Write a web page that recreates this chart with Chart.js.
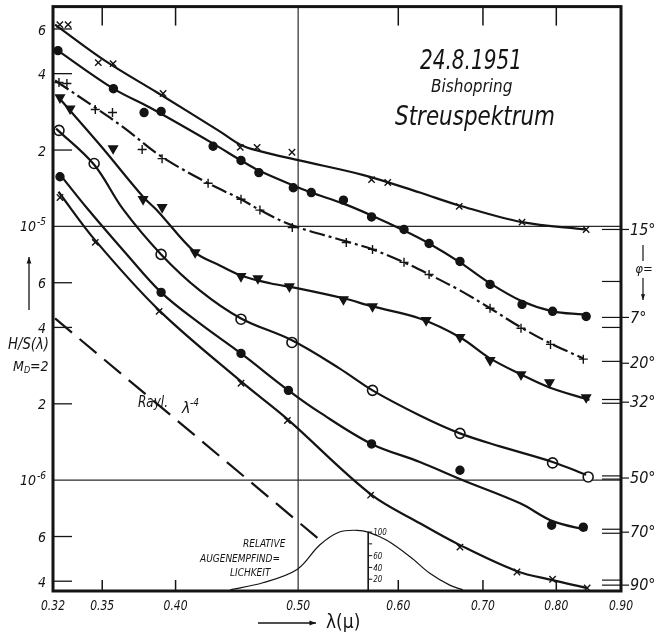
<!DOCTYPE html>
<html><head><meta charset="utf-8">
<script src="https://cdn.jsdelivr.net/npm/chart.js@4/dist/chart.umd.min.js"></script>
<style>html,body{margin:0;padding:0;background:#fff;}canvas{display:block;}</style>
</head><body>
<canvas id="c" width="659" height="633"></canvas>
<script>
// ---------- axis / label data ----------
const xTickVals   = [0.32,0.35,0.40,0.50,0.60,0.70,0.80,0.90];
const xTickLabels = ["0.32","0.35","0.40","0.50","0.60","0.70","0.80","0.90"];
const xMinorTicks = [0.35,0.40,0.60,0.70,0.80];
const gridX = [0.50];
const gridY = [1e-5,1e-6];
const yMinorVals   = [6e-5,4e-5,2e-5,6e-6,4e-6,2e-6,6e-7,4e-7];
const yMinorLabels = ["6","4","2","6","4","2","6","4"];
const yDecadeVals  = [1e-5,1e-6];
const yDecadeExps  = ["-5","-6"];
const angleLabels = ["15°","7°","20°","32°","50°","70°","90°"];
const angleVals   = [9.73e-6,4.38e-6,2.89e-6,2.03e-6,1.02e-6,6.24e-7,3.86e-7];
const rightMarkVals = [9.73e-6,6.07e-6,4.38e-6,4.0e-6,2.94e-6,2.08e-6,2.01e-6,1.04e-6,1.01e-6,6.41e-7,6.18e-7,4.04e-7,3.86e-7];
const eyeTickVals   = [20,40,60,80,100];
const eyeTickLabels = ["20","40","60","","100"];

// ---------- phi = 15° (crosses) ----------
const c15x=[0.3212,0.3517,0.3868,0.4335,0.450,0.4647,0.5011,0.5642,0.624,0.6704,0.7516,0.8447];
const c15y=[6.24e-5,4.50e-5,3.37e-5,2.37e-5,2.10e-5,1.99e-5,1.82e-5,1.59e-5,1.36e-5,1.21e-5,1.04e-5,9.73e-6];
const m15x=[0.324,0.3289,0.3475,0.357,0.391,0.450,0.464,0.4944,0.5715,0.5886,0.6704,0.7516,0.8447];
const m15y=[6.24e-5,6.24e-5,4.42e-5,4.38e-5,3.34e-5,2.05e-5,2.05e-5,1.96e-5,1.53e-5,1.49e-5,1.20e-5,1.04e-5,9.73e-6];
// ---------- phi = 7° (filled circles) ----------
const c7x=[0.3212,0.3572,0.3817,0.4283,0.4506,0.4655,0.4956,0.5121,0.5430,0.5715,0.6063,0.6346,0.6713,0.7091,0.7516,0.7946,0.8397];
const c7y=[5.02e-5,3.49e-5,2.94e-5,2.12e-5,1.82e-5,1.66e-5,1.45e-5,1.36e-5,1.23e-5,1.105e-5,9.64e-6,8.57e-6,7.22e-6,5.97e-6,5.07e-6,4.63e-6,4.50e-6];
const m7x=[0.3229,0.3572,0.3777,0.3896,0.4283,0.4506,0.4655,0.4956,0.5121,0.5430,0.5715,0.6063,0.6346,0.6713,0.7091,0.7516,0.7946,0.8447];
const m7y=[4.93e-5,3.49e-5,2.81e-5,2.84e-5,2.07e-5,1.82e-5,1.63e-5,1.42e-5,1.36e-5,1.27e-5,1.09e-5,9.73e-6,8.57e-6,7.28e-6,5.91e-6,4.93e-6,4.63e-6,4.42e-6];
// ---------- phi = 20° (plus) ----------
const c20x=[0.3212,0.3456,0.3649,0.3889,0.4244,0.4506,0.4664,0.4947,0.5458,0.5725,0.6063,0.6346,0.6713,0.7091,0.7502,0.7916,0.8403];
const c20y=[3.76e-5,2.94e-5,2.43e-5,1.90e-5,1.48e-5,1.28e-5,1.16e-5,1.01e-5,8.73e-6,8.12e-6,7.22e-6,6.47e-6,5.60e-6,4.76e-6,4.00e-6,3.46e-6,3.02e-6];
const m20x=[0.3235,0.3282,0.3456,0.3566,0.3764,0.3903,0.4244,0.4506,0.4664,0.4947,0.5458,0.5725,0.6063,0.6346,0.7091,0.7502,0.7916,0.8403];
const m20y=[3.69e-5,3.66e-5,2.89e-5,2.81e-5,2.01e-5,1.85e-5,1.48e-5,1.28e-5,1.16e-5,9.91e-6,8.65e-6,8.12e-6,7.22e-6,6.47e-6,4.76e-6,3.97e-6,3.43e-6,3.00e-6];
// ---------- phi = 32° (filled triangles) ----------
const c32x=[0.3223,0.349,0.377,0.3868,0.4145,0.4335,0.4506,0.4751,0.4999,0.5430,0.5725,0.624,0.6713,0.7091,0.7502,0.7901,0.8498];
const c32y=[3.28e-5,2.08e-5,1.31e-5,1.156e-5,7.90e-6,7.02e-6,6.41e-6,5.97e-6,5.70e-6,5.21e-6,4.84e-6,4.34e-6,3.66e-6,3.02e-6,2.61e-6,2.32e-6,2.07e-6];
const m32x=[0.3241,0.3301,0.357,0.377,0.3903,0.4145,0.4506,0.4647,0.4921,0.5430,0.5725,0.6312,0.6713,0.7091,0.7502,0.7901,0.8447];
const m32y=[3.22e-5,2.91e-5,2.03e-5,1.28e-5,1.19e-5,7.90e-6,6.36e-6,6.24e-6,5.80e-6,5.16e-6,4.84e-6,4.27e-6,3.66e-6,2.97e-6,2.61e-6,2.43e-6,2.12e-6];
// ---------- phi = 50° (open circles) ----------
const c50x=[0.3218,0.3449,0.3635,0.3896,0.418,0.4506,0.4944,0.539,0.5725,0.624,0.6713,0.722,0.7946,0.8447];
const c50y=[2.43e-5,1.75e-5,1.17e-5,7.76e-6,5.60e-6,4.34e-6,3.56e-6,2.76e-6,2.26e-6,1.80e-6,1.53e-6,1.36e-6,1.18e-6,1.05e-6];
const m50x=[0.3235,0.3449,0.3896,0.4506,0.4944,0.5725,0.6713,0.7946,0.8478];
const m50y=[2.39e-5,1.77e-5,7.76e-6,4.31e-6,3.49e-6,2.26e-6,1.53e-6,1.17e-6,1.03e-6];
// ---------- phi = 70° (filled circles) ----------
const c70x=[0.3232,0.3405,0.3649,0.3896,0.418,0.4506,0.4912,0.520,0.5715,0.624,0.6749,0.749,0.7946,0.8462];
const c70y=[1.63e-5,1.18e-5,7.90e-6,5.50e-6,4.15e-6,3.16e-6,2.26e-6,1.85e-6,1.39e-6,1.18e-6,1.0e-6,8.11e-7,6.90e-7,6.36e-7];
const m70x=[0.3241,0.3896,0.4506,0.4912,0.5715,0.6713,0.7932,0.8403];
const m70y=[1.57e-5,5.50e-6,3.16e-6,2.26e-6,1.39e-6,1.095e-6,6.65e-7,6.53e-7];
// ---------- phi = 90° (crosses) ----------
const c90x=[0.3232,0.3456,0.3882,0.4506,0.4903,0.5705,0.624,0.6713,0.7447,0.7946,0.8462];
const c90y=[1.37e-5,8.81e-6,4.67e-6,2.45e-6,1.74e-6,8.81e-7,6.77e-7,5.55e-7,4.38e-7,4.04e-7,3.76e-7];
const m90x=[0.3241,0.3456,0.3882,0.4506,0.4903,0.5705,0.6713,0.7447,0.7946,0.8462];
const m90y=[1.30e-5,8.65e-6,4.63e-6,2.41e-6,1.72e-6,8.73e-7,5.45e-7,4.35e-7,4.07e-7,3.76e-7];
// ---------- Rayleigh lambda^-4 (dashed) ----------
const rayX=[0.3212,0.5182];
const rayY=[4.34e-6,5.91e-7];
// ---------- relative eye sensitivity (inset, percent) ----------
const eyeX=[0.4418,0.4689,0.4994,0.520,0.539,0.5566,0.568,0.5876,0.6131,0.6354,0.6589,0.6749];
const eyeV=[2,14,37,78,100,103,100,86,58,30,10,2];

// ---------- helpers ----------
const INK='#141414';
function pts(xs,ys){return xs.map((x,i)=>({x:x,y:ys[i]}));}
function curve(xs,ys,extra){return Object.assign({type:'line',data:pts(xs,ys),borderColor:INK,borderWidth:2.2,pointRadius:0,fill:false,tension:0.35,xAxisID:'x',yAxisID:'y'},extra||{});}
function marks(xs,ys,style,extra){return Object.assign({type:'line',data:pts(xs,ys),showLine:false,pointStyle:style,pointRadius:4.5,borderColor:INK,backgroundColor:INK,pointBorderColor:INK,pointBackgroundColor:INK,pointBorderWidth:1.4,xAxisID:'x',yAxisID:'y'},extra||{});}
const FAM='"Liberation Sans Narrow","DejaVu Sans Condensed","Liberation Sans",sans-serif';
const F=(s,w)=>`italic ${w||'normal'} ${s}px ${FAM}`;

function arrow(ctx,x1,y1,x2,y2,h){
  ctx.beginPath();ctx.moveTo(x1,y1);ctx.lineTo(x2,y2);ctx.stroke();
  const a=Math.atan2(y2-y1,x2-x1);
  ctx.beginPath();ctx.moveTo(x2,y2);
  ctx.lineTo(x2-h*Math.cos(a-0.35),y2-h*Math.sin(a-0.35));
  ctx.lineTo(x2-h*Math.cos(a+0.35),y2-h*Math.sin(a+0.35));
  ctx.closePath();ctx.fill();
}

const deco={
  id:'deco',
  beforeDraw(chart){const c=chart.ctx;c.save();c.fillStyle='#fff';c.fillRect(0,0,chart.width,chart.height);c.restore();},
  beforeDatasetsDraw(chart){
    const {ctx,chartArea:a,scales:{x,y}}=chart;
    ctx.save();ctx.strokeStyle='#2a2a2a';ctx.lineWidth=1.2;
    gridY.forEach(v=>{const py=y.getPixelForValue(v);ctx.beginPath();ctx.moveTo(a.left,py);ctx.lineTo(a.right,py);ctx.stroke();});
    gridX.forEach(v=>{const px=x.getPixelForValue(v);ctx.beginPath();ctx.moveTo(px,a.top);ctx.lineTo(px,a.bottom);ctx.stroke();});
    ctx.restore();
  },
  afterDraw(chart){
    const {ctx,chartArea:a,scales:{x,y,yEye}}=chart;
    ctx.save();
    ctx.strokeStyle=INK;ctx.fillStyle=INK;
    // frame
    ctx.lineWidth=3;ctx.strokeRect(a.left,a.top,a.right-a.left,a.bottom-a.top);
    // x ticks top / bottom
    ctx.lineWidth=1.5;
    xMinorTicks.forEach(v=>{const px=x.getPixelForValue(v);
      ctx.beginPath();ctx.moveTo(px,a.top);ctx.lineTo(px,a.top+19);ctx.stroke();
      ctx.beginPath();ctx.moveTo(px,a.bottom);ctx.lineTo(px,a.bottom-11);ctx.stroke();});
    // x labels
    ctx.font=F(14);ctx.textAlign='center';ctx.textBaseline='middle';
    xTickVals.forEach((v,i)=>{ctx.fillText(xTickLabels[i],x.getPixelForValue(v),a.bottom+15,24);});
    // x title
    ctx.lineWidth=1.3;arrow(ctx,258,623,316,623,7);
    ctx.font=`19px ${FAM}`;ctx.textAlign='left';ctx.fillText('λ(μ)',326,623);
    // y ticks (left, inside)
    ctx.lineWidth=1.3;ctx.font=F(14);ctx.textAlign='right';
    yMinorVals.forEach((v,i)=>{const py=y.getPixelForValue(v);
      ctx.beginPath();ctx.moveTo(a.left,py);ctx.lineTo(a.left+19,py);ctx.stroke();
      ctx.fillText(yMinorLabels[i],a.left-7,py+2);});
    yDecadeVals.forEach((v,i)=>{const py=y.getPixelForValue(v);
      ctx.font=F(14);ctx.textAlign='right';ctx.fillText('10',a.left-17,py+1);
      ctx.font=F(10);ctx.textAlign='left';ctx.fillText(yDecadeExps[i],a.left-16,py-4);});
    // y title
    ctx.lineWidth=1.3;arrow(ctx,29,310,29,257,7);
    ctx.font=F(15);ctx.textAlign='left';ctx.fillText('H/S(λ)',8,345,41);
    ctx.font=F(14);ctx.fillText('M',13,367);
    ctx.font=F(9);ctx.fillText('D',24,371);
    ctx.font=F(14);ctx.fillText('=2',30,367);
    // right marks and labels
    ctx.lineWidth=1.2;
    rightMarkVals.forEach(v=>{const py=y.getPixelForValue(v);
      ctx.beginPath();ctx.moveTo(a.right-19,py);ctx.lineTo(a.right,py);ctx.stroke();});
    ctx.font=F(16);ctx.textAlign='left';
    angleVals.forEach((v,i)=>{const py=y.getPixelForValue(v);
      ctx.beginPath();ctx.moveTo(a.right,py);ctx.lineTo(a.right+8,py);ctx.stroke();
      ctx.fillText(angleLabels[i],a.right+9,py+1,26);});
    // phi indicator
    ctx.beginPath();ctx.moveTo(643,245);ctx.lineTo(643,261);ctx.stroke();
    ctx.font=F(13);ctx.textAlign='center';ctx.fillText('φ=',644,270);
    arrow(ctx,643,278,643,300,6);
    // title block
    ctx.textAlign='left';
    ctx.font=F(27);ctx.fillText('24.8.1951',420,62,102);
    ctx.font=F(17);ctx.fillText('Bishopring',431,88,90);
    ctx.font=F(27);ctx.fillText('Streuspektrum',395,118,160);
    // Rayleigh label
    ctx.font=F(16);ctx.fillText('Rayl.',138,403,30);
    ctx.fillText('λ',182,409);ctx.font=F(10);ctx.fillText('-4',190,403);
    // eye sensitivity inset axis
    const ex=x.getPixelForValue(0.568);
    ctx.lineWidth=1.6;ctx.beginPath();ctx.moveTo(ex,a.bottom);ctx.lineTo(ex,yEye.getPixelForValue(100));ctx.stroke();
    ctx.lineWidth=1;ctx.font=F(8);ctx.textAlign='left';
    eyeTickVals.forEach((v,i)=>{const py=yEye.getPixelForValue(v);
      ctx.beginPath();ctx.moveTo(ex,py);ctx.lineTo(ex+4,py);ctx.stroke();
      if(eyeTickLabels[i])ctx.fillText(eyeTickLabels[i],ex+5,py+1);});
    ctx.font=F(10);
    ctx.fillText('RELATIVE',243,544,54);
    ctx.fillText('AUGENEMPFIND=',200,559,95);
    ctx.fillText('LICHKEIT',230,573,46);
    ctx.restore();
  }
};

new Chart(document.getElementById('c'),{
  type:'line',
  data:{datasets:[
    curve(rayX,rayY,{borderDash:[22,10],borderWidth:2.2,tension:0}),
    curve(eyeX,eyeV,{borderWidth:1.2,yAxisID:'yEye'}),
    curve(c15x,c15y),
    curve(c7x,c7y),
    curve(c20x,c20y,{borderDash:[16,4,3,4]}),
    curve(c32x,c32y),
    curve(c50x,c50y),
    curve(c70x,c70y),
    curve(c90x,c90y),
    marks(m15x,m15y,'crossRot'),
    marks(m7x,m7y,'circle',{pointRadius:4}),
    marks(m20x,m20y,'cross'),
    marks(m32x,m32y,'triangle',{pointRadius:5,pointRotation:180}),
    marks(m50x,m50y,'circle',{pointRadius:5,pointBackgroundColor:'#fff',pointBorderWidth:1.6}),
    marks(m70x,m70y,'circle',{pointRadius:4}),
    marks(m90x,m90y,'crossRot')
  ]},
  options:{
    responsive:false,animation:false,events:[],
    layout:{padding:{left:53,right:38,top:6,bottom:42}},
    plugins:{legend:{display:false},tooltip:{enabled:false},title:{display:false}},
    scales:{
      x:{type:'logarithmic',min:0.32,max:0.90,display:false},
      y:{type:'logarithmic',min:3.66e-7,max:7.35e-5,display:false},
      yEye:{type:'linear',min:0,max:991.5,display:false}
    }
  },
  plugins:[deco]
});
</script>
</body></html>
